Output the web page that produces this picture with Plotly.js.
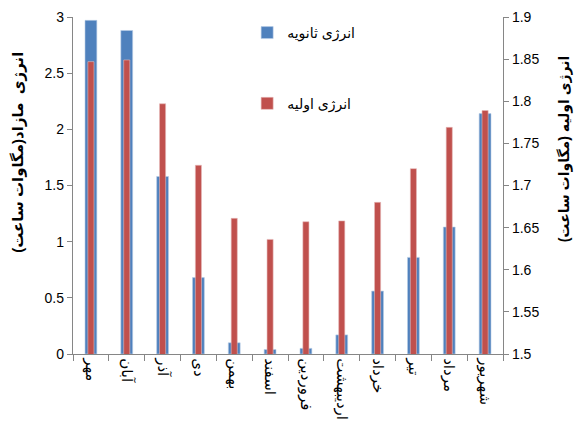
<!DOCTYPE html>
<html>
<head>
<meta charset="utf-8">
<script src="https://cdn.plot.ly/plotly-3.0.1.min.js"></script>
<style>
html, body { margin: 0; padding: 0; background: #fff; }
#chart { width: 575px; height: 428px; }
</style>
</head>
<body>
<div id="chart"></div>
<script>
var months = ['مهر', 'آبان', 'آذر', 'دی', 'بهمن', 'اسفند', 'فروردین', 'اردیبهشت', 'خرداد', 'تیر', 'مرداد', 'شهریور'];
var secondary = [2.97, 2.88, 1.58, 0.68, 0.10, 0.04, 0.05, 0.17, 0.56, 0.86, 1.13, 2.14];
var primary = [1.847, 1.849, 1.797, 1.724, 1.661, 1.636, 1.657, 1.658, 1.680, 1.720, 1.769, 1.789];
var leftTitle = 'انرژی  مازاد(مگاوات ساعت)';
var rightTitle = 'انرژی اولیه (مگاوات ساعت)';

var font = 'Liberation Sans, DejaVu Sans, Arial, sans-serif';
var axisGray = '#868686';

var blue = {
  x: months, y: secondary, type: 'bar', name: 'انرژی ثانویه',
  yaxis: 'y', width: 0.33,
  marker: { color: '#4F81BD', line: { color: '#B9CDE5', width: 0.6 } },
  legend: 'legend'
};
var red = {
  x: months, y: primary, type: 'bar', name: 'انرژی اولیه',
  yaxis: 'y2', width: 0.17,
  marker: { color: '#C0504D', line: { color: '#E6B9B8', width: 0.6 } },
  legend: 'legend2'
};

var layout = {
  width: 575, height: 428,
  margin: { l: 73, r: 72, t: 17, b: 74, pad: 0 },
  paper_bgcolor: '#fff', plot_bgcolor: '#fff',
  barmode: 'overlay',
  font: { family: font, size: 14, color: '#000' },
  xaxis: {
    type: 'category', showgrid: false, zeroline: false,
    showline: true, linecolor: axisGray, linewidth: 1.3,
    ticks: 'outside', tickson: 'boundaries', ticklen: 6, tickcolor: axisGray,
    tickangle: 90, tickfont: { size: 15 }
  },
  yaxis: {
    range: [0, 3], dtick: 0.5, showgrid: false, zeroline: false,
    showline: true, linecolor: axisGray, linewidth: 1.3,
    ticks: 'outside', ticklen: 5, tickcolor: axisGray
  },
  yaxis2: {
    overlaying: 'y', side: 'right', range: [1.5, 1.9], dtick: 0.05,
    showgrid: false, zeroline: false,
    showline: true, linecolor: axisGray, linewidth: 1.3,
    ticks: 'outside', ticklen: 5, tickcolor: axisGray
  },
  annotations: [
    { text: '<b>' + leftTitle + '</b>', xref: 'paper', yref: 'paper',
      x: -0.128, y: 0.6, textangle: -90, showarrow: false,
      xanchor: 'center', yanchor: 'middle', font: { size: 15 } },
    { text: '<b>' + rightTitle + '</b>', xref: 'paper', yref: 'paper',
      x: 1.144, y: 0.61, textangle: -90, showarrow: false,
      xanchor: 'center', yanchor: 'middle', font: { size: 14 } }
  ],
  legend: {
    x: 0.405, y: 1.0, xanchor: 'left', yanchor: 'top',
    bgcolor: 'rgba(0,0,0,0)', font: { size: 14 }
  },
  legend2: {
    x: 0.405, y: 0.79, xanchor: 'left', yanchor: 'top',
    bgcolor: 'rgba(0,0,0,0)', font: { size: 14 }
  },
  showlegend: true
};

Plotly.newPlot('chart', [blue, red], layout, { displayModeBar: false });
</script>
</body>
</html>
